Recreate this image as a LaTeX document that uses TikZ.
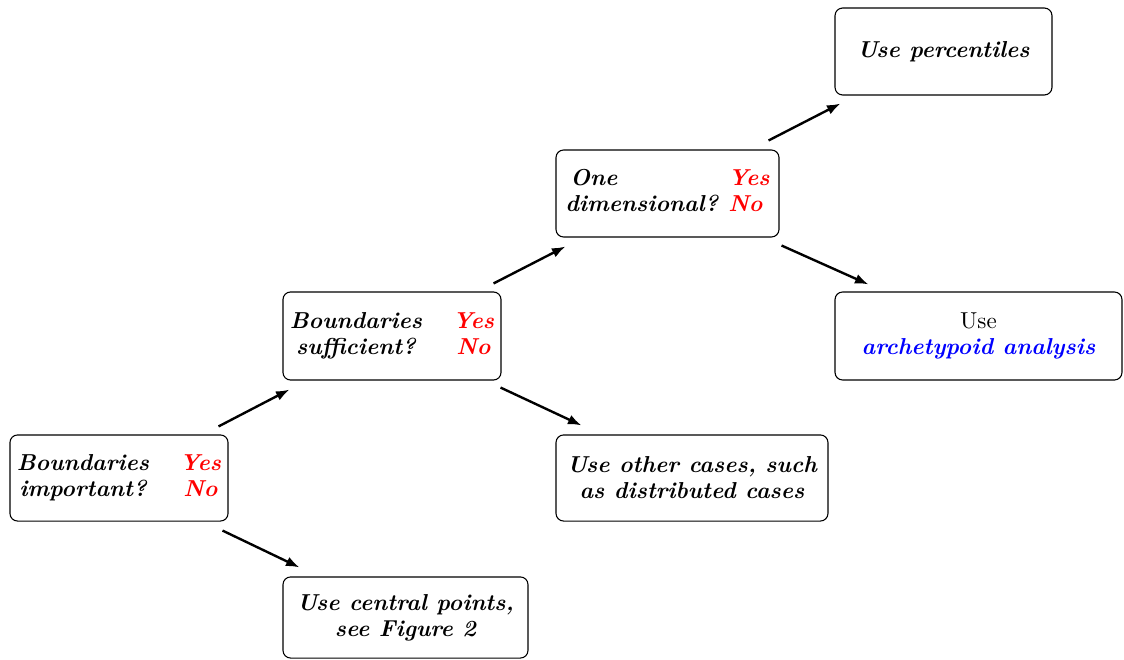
\documentclass[tikz,border=0pt]{standalone}
\usetikzlibrary{calc,arrows.meta}
\begin{document}
\begin{tikzpicture}[x=0.46pt,y=-0.46pt,
  box/.style={draw=black,line width=0.5pt,rounded corners=3.5pt,align=center,inner sep=0pt,font=\fontsize{10.6pt}{12pt}\selectfont\bfseries\itshape},
  arr/.style={-{Latex[length=6.2pt,width=4.6pt]},line width=1.1pt}]
\useasboundingbox (0,0) rectangle (1124,660);
\node[box,minimum width=100.3pt,minimum height=39.6pt] (B1) at (119,478)
  {\begin{tabular*}{94pt}{@{}c@{\extracolsep{\fill}}c@{}}Boundaries & \color{red}Yes\\ important? & \color{red}No\end{tabular*}};
\node[box,minimum width=100.3pt,minimum height=40.5pt] (B2) at (392,336)
  {\begin{tabular*}{94pt}{@{}c@{\extracolsep{\fill}}c@{}}Boundaries & \color{red}Yes\\ sufficient? & \color{red}No\end{tabular*}};
\node[box,minimum width=102.6pt,minimum height=40pt] (B3) at (667.5,193.5)
  {\begin{tabular*}{94pt}{@{}l@{\extracolsep{\fill}}l@{}}\hspace{2.3pt}One & \color{red}Yes\\ dimensional? & \color{red}No\end{tabular*}};
\node[box,minimum width=99.8pt,minimum height=40pt] (B4) at (943.5,51.5) {Use percentiles};
\node[box,minimum width=132pt,minimum height=40.5pt] (B5) at (978.5,336) {\normalfont\fontsize{10.6pt}{12pt}\selectfont Use\\ \textcolor{blue}{\bfseries\itshape archetypoid analysis}};
\node[box,minimum width=125.1pt,minimum height=39.6pt] (B6) at (692,478) {Use other cases, such\\ as distributed cases};
\node[box,minimum width=112.7pt,minimum height=37.3pt] (B7) at (405.5,617.5) {Use central points,\\ see Figure 2};
\draw[arr] ($(B1.north east)+(-10,-8)$) -- ($(B2.south west)+(7,9)$);
\draw[arr] ($(B1.south east)+(-6,9)$) -- ($(B7.north west)+(17,-9)$);
\draw[arr] ($(B2.north east)+(-8,-8)$) -- ($(B3.south west)+(10,9)$);
\draw[arr] ($(B2.south east)+(-1,7)$) -- ($(B6.north west)+(26,-9)$);
\draw[arr] ($(B3.north east)+(-11,-9)$) -- ($(B4.south west)+(6,8)$);
\draw[arr] ($(B3.south east)+(2,8)$) -- ($(B5.north west)+(34,-7)$);
\end{tikzpicture}
\end{document}
